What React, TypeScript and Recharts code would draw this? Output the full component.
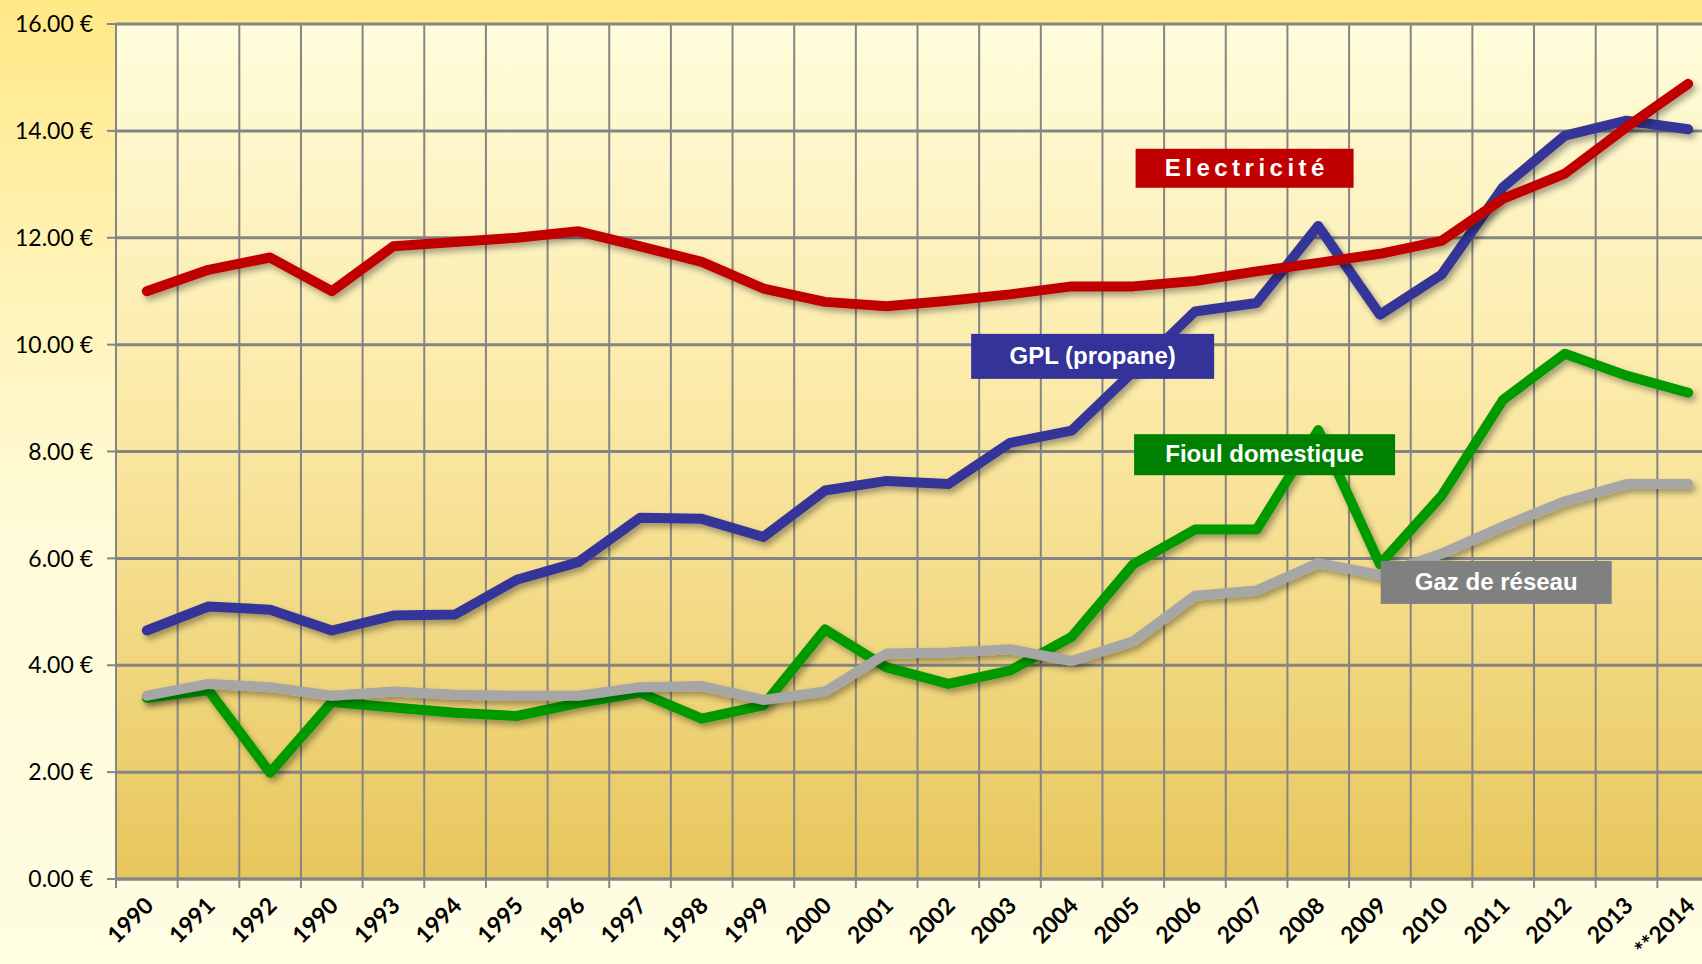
import { LineChart, Line, XAxis, YAxis, CartesianGrid, ReferenceDot } from 'recharts';

const years = [
  '1990', '1991', '1992', '1990', '1993', '1994', '1995', '1996', '1997', '1998', '1999', '2000', '2001',
  '2002', '2003', '2004', '2005', '2006', '2007', '2008', '2009', '2010', '2011', '2012', '2013', '**2014',
];

const electricite = [
  11.0, 11.4, 11.63, 11.0, 11.84, 11.92, 12.0, 12.12, 11.84, 11.55, 11.05, 10.8, 10.72,
  10.82, 10.94, 11.09, 11.09, 11.19, 11.37, 11.53, 11.7, 11.94, 12.73, 13.2, 14.07, 14.88,
];
const gpl = [
  4.65, 5.1, 5.04, 4.65, 4.93, 4.95, 5.6, 5.93, 6.76, 6.74, 6.4, 7.27, 7.45,
  7.39, 8.16, 8.39, 9.5, 10.62, 10.78, 12.22, 10.56, 11.31, 12.95, 13.91, 14.19, 14.03,
];
const fioul = [
  3.39, 3.53, 1.99, 3.31, 3.21, 3.11, 3.05, 3.29, 3.49, 3.0, 3.25, 4.67, 3.96,
  3.65, 3.9, 4.53, 5.89, 6.54, 6.54, 8.4, 5.89, 7.17, 8.97, 9.83, 9.42, 9.1,
];
const gaz = [
  3.43, 3.65, 3.59, 3.43, 3.51, 3.45, 3.43, 3.43, 3.59, 3.61, 3.35, 3.51, 4.22,
  4.24, 4.3, 4.08, 4.45, 5.3, 5.4, 5.91, 5.69, 6.09, 6.6, 7.07, 7.39, 7.39,
];
const yTicks = [0, 2, 4, 6, 8, 10, 12, 14, 16];

const data = years.map((label, i) => ({
  i,
  label,
  electricite: electricite[i],
  gpl: gpl[i],
  fioul: fioul[i],
  gaz: gaz[i],
}));

// series name boxes, anchored to a category/value with a small pixel nudge
const tags = [
  { text: 'Electricité', x: 18, y: 13.3, dx: -12, w: 218, h: 39, fill: '#C00000', spacing: 4.5 },
  { text: 'GPL (propane)', x: 15, y: 9.78, dx: 21, w: 243, h: 45, fill: '#333399', spacing: 0 },
  { text: 'Fioul domestique', x: 18, y: 7.94, dx: 8, w: 261, h: 41, fill: '#008000', spacing: 0 },
  { text: 'Gaz de réseau', x: 22, y: 5.55, dx: -7, w: 231, h: 43, fill: '#808080', spacing: 0 },
];

const GRID = '#858585';

function YearTick(props: any) {
  const { x, y, payload, index } = props;
  const half = payload && payload.offset ? payload.offset : 30.8;
  const last = index === years.length - 1;
  const tx = x - 5;
  const ty = y + 15;
  return (
    <g>
      <line x1={x - half} x2={x - half} y1={y} y2={y + 9} stroke={GRID} strokeWidth={2} />
      {last && <line x1={x + half} x2={x + half} y1={y} y2={y + 9} stroke={GRID} strokeWidth={2} />}
      <text
        x={tx}
        y={ty}
        transform={`rotate(-45 ${tx} ${ty})`}
        textAnchor="end"
        dominantBaseline="hanging"
        fontFamily="Lato, 'Open Sans', sans-serif"
        fontWeight={700}
        fontSize={23}
        fill="#000"
      >
        {years[payload.value]}
      </text>
    </g>
  );
}

function Tag(tag: (typeof tags)[number]) {
  return (props: any) => {
    const cx = props.cx + tag.dx;
    const cy = props.cy;
    return (
      <g>
        <rect x={cx - tag.w / 2} y={cy - tag.h / 2} width={tag.w} height={tag.h} fill={tag.fill} />
        <text
          x={cx + tag.spacing / 2}
          y={cy + 1}
          textAnchor="middle"
          dominantBaseline="middle"
          fontFamily="'Liberation Sans', Arial, sans-serif"
          fontWeight={700}
          fontSize={24}
          letterSpacing={tag.spacing}
          fill="#fff"
        >
          {tag.text}
        </text>
      </g>
    );
  };
}

export default function App() {
  return (
    <div
      style={{
        position: 'fixed',
        left: 0,
        top: 0,
        width: 1702,
        height: 964,
        overflow: 'hidden',
        background: 'linear-gradient(to bottom, #FFE886 0%, #FFF3B8 30%, #FFFBD8 55%, #FFFDE2 100%)',
      }}
    >
      <LineChart width={1722} height={964} data={data} margin={{ top: 24, right: 3, bottom: 0, left: 0 }}>
        <defs>
          <linearGradient id="plotBg" x1="0" y1="0" x2="0" y2="1">
            <stop offset="0%" stopColor="#FFFDDC" />
            <stop offset="45%" stopColor="#FBE9A6" />
            <stop offset="100%" stopColor="#E7C65C" />
          </linearGradient>
          <filter id="shadow" x="-5%" y="-20%" width="110%" height="140%">
            <feDropShadow dx="3" dy="4" stdDeviation="3" floodColor="#000" floodOpacity="0.35" />
          </filter>
        </defs>
        <CartesianGrid vertical={false} stroke={GRID} strokeWidth={3} fill="url(#plotBg)" fillOpacity={1} />
        <CartesianGrid
          horizontal={false}
          stroke={GRID}
          strokeWidth={2}
          verticalCoordinatesGenerator={({ offset }: any) =>
            years.map((_, k) => offset.left + (k * offset.width) / years.length).concat(offset.left + offset.width)
          }
        />
        <XAxis
          dataKey="i"
          type="category"
          scale="band"
          interval={0}
          height={85}
          tickLine={false}
          tickSize={0}
          tickMargin={0}
          axisLine={{ stroke: GRID, strokeWidth: 3 }}
          tick={<YearTick />}
        />
        <YAxis
          type="number"
          domain={[0, 16]}
          ticks={yTicks}
          width={116}
          tickSize={9}
          tickMargin={14}
          tickLine={{ stroke: GRID, strokeWidth: 2 }}
          axisLine={{ stroke: GRID, strokeWidth: 2 }}
          tickFormatter={(v: number) => `${v.toFixed(2)} €`}
          tick={{ fill: '#000', fontSize: 23, fontFamily: "Lato, 'Open Sans', sans-serif" }}
        />
        <Line
          dataKey="fioul"
          stroke="#009900"
          strokeWidth={10}
          dot={false}
          strokeLinecap="round"
          strokeLinejoin="round"
          filter="url(#shadow)"
          isAnimationActive={false}
        />
        <Line
          dataKey="gaz"
          stroke="#A6A6A6"
          strokeWidth={10}
          dot={false}
          strokeLinecap="round"
          strokeLinejoin="round"
          filter="url(#shadow)"
          isAnimationActive={false}
        />
        <Line
          dataKey="gpl"
          stroke="#363699"
          strokeWidth={10}
          dot={false}
          strokeLinecap="round"
          strokeLinejoin="round"
          filter="url(#shadow)"
          isAnimationActive={false}
        />
        <Line
          dataKey="electricite"
          stroke="#C00000"
          strokeWidth={10}
          dot={false}
          strokeLinecap="round"
          strokeLinejoin="round"
          filter="url(#shadow)"
          isAnimationActive={false}
        />
        {tags.map((t) => (
          <ReferenceDot key={t.text} x={t.x} y={t.y} r={1} shape={Tag(t)} />
        ))}
      </LineChart>
    </div>
  );
}
